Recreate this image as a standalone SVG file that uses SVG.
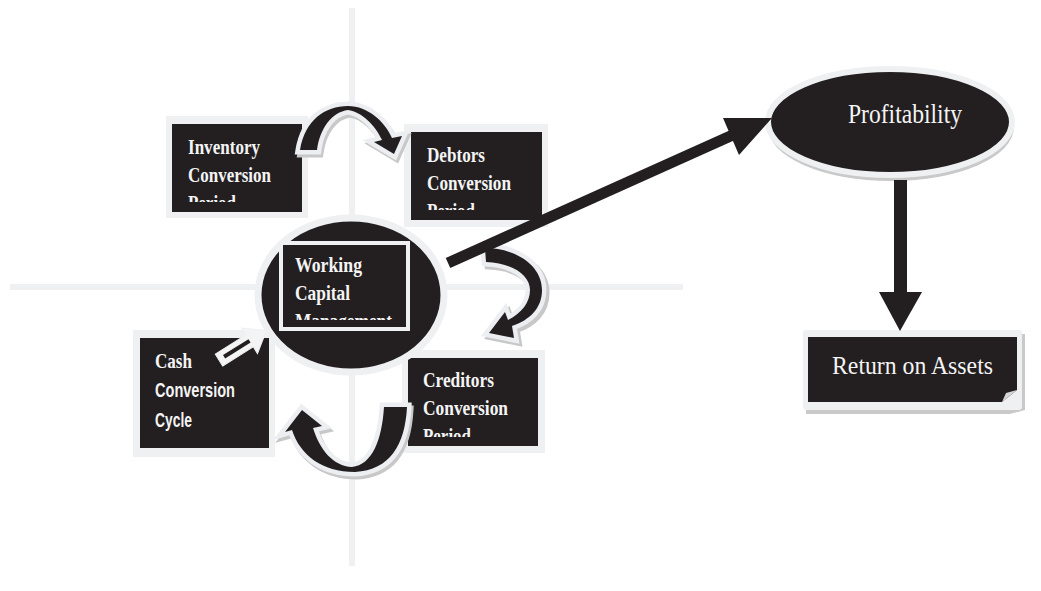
<svg xmlns="http://www.w3.org/2000/svg" width="1041" height="591" viewBox="0 0 1041 591">
<style>
.grid{stroke:#eef0f2;stroke-width:6;fill:none}
.frame{fill:#eef0f2}
.blk{fill:#231f20}
.t{font-family:"Liberation Serif","Times New Roman",serif;font-weight:bold;font-size:22px;fill:#f4f4f4}
.ts{font-family:"Liberation Sans",Arial,sans-serif;font-weight:bold;font-size:21px;fill:#f4f4f4}
.tr{font-family:"Liberation Serif","Times New Roman",serif;fill:#f4f4f4}
.carc{fill:#231f20;stroke:#eceef1;stroke-width:9;paint-order:stroke;stroke-linejoin:miter}
.cshadow{fill:#c8c8c8;stroke:#c8c8c8;stroke-width:9;stroke-linejoin:miter}
</style>
<defs>
<clipPath id="cInv"><rect x="172" y="124" width="130" height="78"/></clipPath>
<clipPath id="cDeb"><rect x="411" y="132" width="131" height="78"/></clipPath>
<clipPath id="cWC"><rect x="281" y="243" width="127" height="77"/></clipPath>
<clipPath id="cCred"><rect x="408" y="358" width="130" height="79"/></clipPath>
</defs>
<rect width="1041" height="591" fill="#ffffff"/>
<g id="grid">
<line class="grid" x1="352" y1="8" x2="352" y2="566"/>
<line class="grid" x1="10" y1="287" x2="683" y2="287"/>
</g>
<g id="inventory">
<rect class="frame" x="166" y="116" width="142" height="102"/>
<rect class="blk" x="172" y="124" width="130" height="88"/>
<g clip-path="url(#cInv)">
<text class="t" x="188" y="154" textLength="72" lengthAdjust="spacingAndGlyphs">Inventory</text>
<text class="t" x="188" y="182" textLength="83" lengthAdjust="spacingAndGlyphs">Conversion</text>
<text class="t" x="188" y="210" textLength="48" lengthAdjust="spacingAndGlyphs">Period</text>
</g>
</g>
<g id="debtors">
<rect class="frame" x="404" y="124" width="144" height="103"/>
<rect class="blk" x="411" y="132" width="131" height="88"/>
<g clip-path="url(#cDeb)">
<text class="t" x="427" y="162" textLength="58" lengthAdjust="spacingAndGlyphs">Debtors</text>
<text class="t" x="427" y="190" textLength="84" lengthAdjust="spacingAndGlyphs">Conversion</text>
<text class="t" x="427" y="218" textLength="48" lengthAdjust="spacingAndGlyphs">Period</text>
</g>
</g>
<g id="creditors">
<rect class="frame" x="402" y="350" width="143" height="103"/>
<rect class="blk" x="408" y="358" width="130" height="88"/>
<g clip-path="url(#cCred)">
<text class="t" x="423" y="387" textLength="71" lengthAdjust="spacingAndGlyphs">Creditors</text>
<text class="t" x="423" y="415" textLength="85" lengthAdjust="spacingAndGlyphs">Conversion</text>
<text class="t" x="423" y="443" textLength="48" lengthAdjust="spacingAndGlyphs">Period</text>
</g>
</g>
<g id="cash">
<rect class="frame" x="133" y="330" width="142" height="127"/>
<rect class="blk" x="140" y="338" width="129" height="110"/>
<text class="t" x="155" y="368" textLength="37" lengthAdjust="spacingAndGlyphs" font-weight="normal">Cash</text>
<text class="ts" x="155" y="397" textLength="80" lengthAdjust="spacingAndGlyphs">Conversion</text>
<text class="ts" x="155" y="427" textLength="37" lengthAdjust="spacingAndGlyphs">Cycle</text>
</g>
<g id="working-capital">
<ellipse cx="351" cy="295" rx="93" ry="77" fill="#231f20" stroke="#eef0f2" stroke-width="7"/>
<rect x="281" y="243" width="127" height="86" fill="#231f20" stroke="#eef0f2" stroke-width="4"/>
<g clip-path="url(#cWC)">
<text class="t" x="295" y="272" textLength="67" lengthAdjust="spacingAndGlyphs">Working</text>
<text class="t" x="295" y="300" textLength="55" lengthAdjust="spacingAndGlyphs">Capital</text>
<text class="t" x="295" y="328" textLength="97" lengthAdjust="spacingAndGlyphs">Management</text>
</g>
</g>
<g id="profitability">
<ellipse cx="891" cy="127" rx="123" ry="54" fill="#c9c9c9"/>
<ellipse cx="890" cy="122" rx="122" ry="53" fill="#231f20" stroke="#eef0f2" stroke-width="6"/>
<text class="tr" x="848" y="123" font-size="28" textLength="114" lengthAdjust="spacingAndGlyphs">Profitability</text>
</g>
<g id="return-on-assets">
<path d="M806,334 H1025 V410 L1010,414 H806 Z" fill="#c9c9c9"/>
<rect x="803" y="330" width="219" height="80" rx="3" fill="#eef0f2"/>
<path d="M808,337 H1017 V390 L1002,402 H808 Z" fill="#231f20"/>
<path d="M1002,402 L1006,393 L1017,390 Z" fill="#d6d6d6"/>
<text class="tr" x="832" y="374" font-size="25" textLength="161" lengthAdjust="spacingAndGlyphs">Return on Assets</text>
</g>
<g id="connectors">
<g id="arc-top">
<path class="cshadow" transform="translate(2,3)" d="M300,150 C305,120 325,106 348,106 C368,106 385,122 392,138 L402,136 L394,154 L374,142 L382,140 C375,125 362,112 348,110 C332,112 320,128 317,150 Z"/>
<path class="carc" d="M300,150 C305,120 325,106 348,106 C368,106 385,122 392,138 L402,136 L394,154 L374,142 L382,140 C375,125 362,112 348,110 C332,112 320,128 317,150 Z"/>
</g>
<g id="arc-right">
<path class="cshadow" transform="translate(3,3)" d="M485,248 C515,248 542,265 542,290 C542,308 530,320 512,326 L514,338 L489,333 L505,312 L508,320 C522,313 530,302 530,290 C530,275 512,263 486,262 Z"/>
<path class="carc" d="M485,248 C515,248 542,265 542,290 C542,308 530,320 512,326 L514,338 L489,333 L505,312 L508,320 C522,313 530,302 530,290 C530,275 512,263 486,262 Z"/>
</g>
<g id="arc-bottom">
<path class="cshadow" transform="translate(2,3)" d="M407,407 C405,445 390,470 355,472 C322,472 300,455 292,430 L285,432 L302,410 L322,426 L313,428 C320,450 333,466 352,467 C372,465 382,440 384,407 Z"/>
<path class="carc" d="M407,407 C405,445 390,470 355,472 C322,472 300,455 292,430 L285,432 L302,410 L322,426 L313,428 C320,450 333,466 352,467 C372,465 382,440 384,407 Z"/>
</g>
<g id="cash-to-wc" transform="translate(219,360) rotate(-32)">
<polygon points="0,-7 36,-7 36,-15 56,0 36,15 36,7 0,7" fill="#f4f4f4" stroke="#eef0f2" stroke-width="1"/>
<line x1="6" y1="0" x2="36" y2="0" stroke="#231f20" stroke-width="4"/>
</g>
<g id="wc-to-profit">
<line x1="448" y1="263" x2="735" y2="134" stroke="#231f20" stroke-width="11"/>
<polygon points="772,118 739,155 723,118" fill="#231f20"/>
</g>
<g id="profit-to-roa">
<rect x="894" y="180" width="13" height="113" fill="#231f20"/>
<polygon points="879,292 922,292 900,331" fill="#231f20"/>
</g>
</g>
</svg>
